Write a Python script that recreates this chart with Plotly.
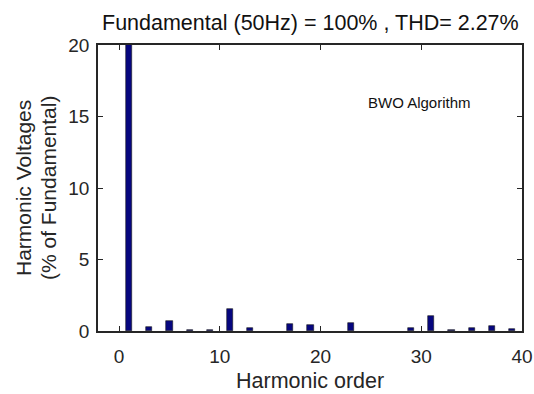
import plotly.graph_objects as go

harmonics = [1, 3, 5, 7, 9, 11, 13, 17, 19, 23, 29, 31, 33, 35, 37, 39]
magnitudes = [100, 0.28, 0.68, 0.05, 0.07, 1.51, 0.24, 0.52, 0.45, 0.56, 0.2, 1.05, 0.1, 0.18, 0.33, 0.17]
x_ticks = [0, 10, 20, 30, 40]
y_ticks = [0, 5, 10, 15, 20]
title_text = "Fundamental (50Hz) = 100% , THD= 2.27%"
label_text = "BWO Algorithm"

FONT = "Liberation Sans, Arial, sans-serif"

fig = go.Figure()
fig.add_trace(go.Bar(
    x=harmonics, y=magnitudes, width=0.6,
    marker=dict(color="#06067f", line=dict(color="#1a1a1a", width=0.6)),
    showlegend=False,
))

axis_common = dict(
    showline=True, linecolor="#262626", linewidth=1.5, mirror="ticks",
    ticks="inside", ticklen=5, tickcolor="#262626", tickwidth=1,
    showgrid=False, zeroline=False, automargin=False,
    tickfont=dict(family=FONT, size=19, color="#262626"),
)

fig.update_layout(
    width=534, height=394,
    margin=dict(l=98, r=12, t=45, b=63, autoexpand=False),
    paper_bgcolor="white", plot_bgcolor="white",
    bargap=0,
    xaxis=dict(range=[-2.1, 40], tickvals=x_ticks, ticklabelstandoff=7, **axis_common),
    yaxis=dict(range=[0, 20], tickvals=y_ticks, ticklabelstandoff=3, **axis_common),
    annotations=[
        dict(text=title_text, xref="paper", yref="paper", x=0.5, y=1.0, yshift=22,
             xanchor="center", yanchor="middle", showarrow=False,
             font=dict(family=FONT, size=21.5, color="#111111")),
        dict(text="Harmonic order", xref="paper", yref="paper", x=0.5, y=0.0, yshift=-50,
             xanchor="center", yanchor="middle", showarrow=False,
             font=dict(family=FONT, size=21.5, color="#262626")),
        dict(text=label_text, xref="paper", yref="paper", x=0.633, y=0.80,
             xanchor="left", yanchor="middle", showarrow=False,
             font=dict(family=FONT, size=15, color="#111111")),
        dict(text="Harmonic Voltages", xref="paper", yref="paper", x=0, xshift=-75, y=0.5,
             textangle=-90, xanchor="center", yanchor="middle", showarrow=False,
             font=dict(family=FONT, size=21, color="#262626")),
        dict(text="(% of Fundamental)", xref="paper", yref="paper", x=0, xshift=-50, y=0.5,
             textangle=-90, xanchor="center", yanchor="middle", showarrow=False,
             font=dict(family=FONT, size=21, color="#262626")),
    ],
)

fig.write_html("out.html")
